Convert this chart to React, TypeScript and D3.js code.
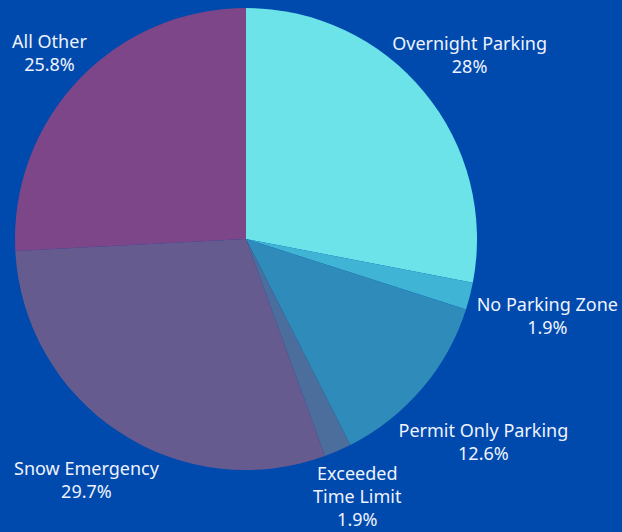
import React from "react";
import * as d3 from "d3";

const categories = ["Overnight Parking", "No Parking Zone", "Permit Only Parking", "Exceeded Time Limit", "Snow Emergency", "All Other"];
const values = [28, 1.9, 12.6, 1.9, 29.7, 25.8];
const valueLabels = ["28%", "1.9%", "12.6%", "1.9%", "29.7%", "25.8%"];
const labelLines = [["Overnight Parking"], ["No Parking Zone"], ["Permit Only Parking"], ["Exceeded", "Time Limit"], ["Snow Emergency"], ["All Other"]];
const colors = ["#6BE3E8", "#40B4D4", "#2E8BBA", "#4C6E9C", "#665B8F", "#7D4688"];
const labelRadius = [290, 311, 312, 280, 289, 271];

const W = 622, H = 532;
const cx = 246, cy = 239, R = 231;
const lineH = 23;

export default function App() {
  const pie = d3.pie<number>().sort(null).value((d) => d);
  const arcs = pie(values);
  const arcGen = d3.arc<d3.PieArcDatum<number>>().innerRadius(0).outerRadius(R);
  return (
    <svg width={W} height={H} style={{ position: "absolute", left: 0, top: 0, background: "#0049AD" }}>
      <rect width={W} height={H} fill="#0049AD" />
      <g transform={`translate(${cx},${cy})`}>
        {arcs.map((a, i) => (
          <path key={i} d={arcGen(a) || ""} fill={colors[i]} />
        ))}
        {arcs.map((a, i) => {
          const mid = (a.startAngle + a.endAngle) / 2;
          const r = labelRadius[i];
          const x = Math.sin(mid) * r;
          const y = -Math.cos(mid) * r;
          const lines = [...labelLines[i], valueLabels[i]];
          const y0 = y - ((lines.length - 1) * lineH) / 2;
          return (
            <text key={i} x={x} y={y0} textAnchor="middle" dominantBaseline="central" fill="#EEF3FF"
              style={{ fontFamily: "'Noto Sans', sans-serif", fontSize: 18 }}>
              {lines.map((l, j) => (
                <tspan key={j} x={x} y={y0 + j * lineH}>{l}</tspan>
              ))}
            </text>
          );
        })}
      </g>
    </svg>
  );
}
